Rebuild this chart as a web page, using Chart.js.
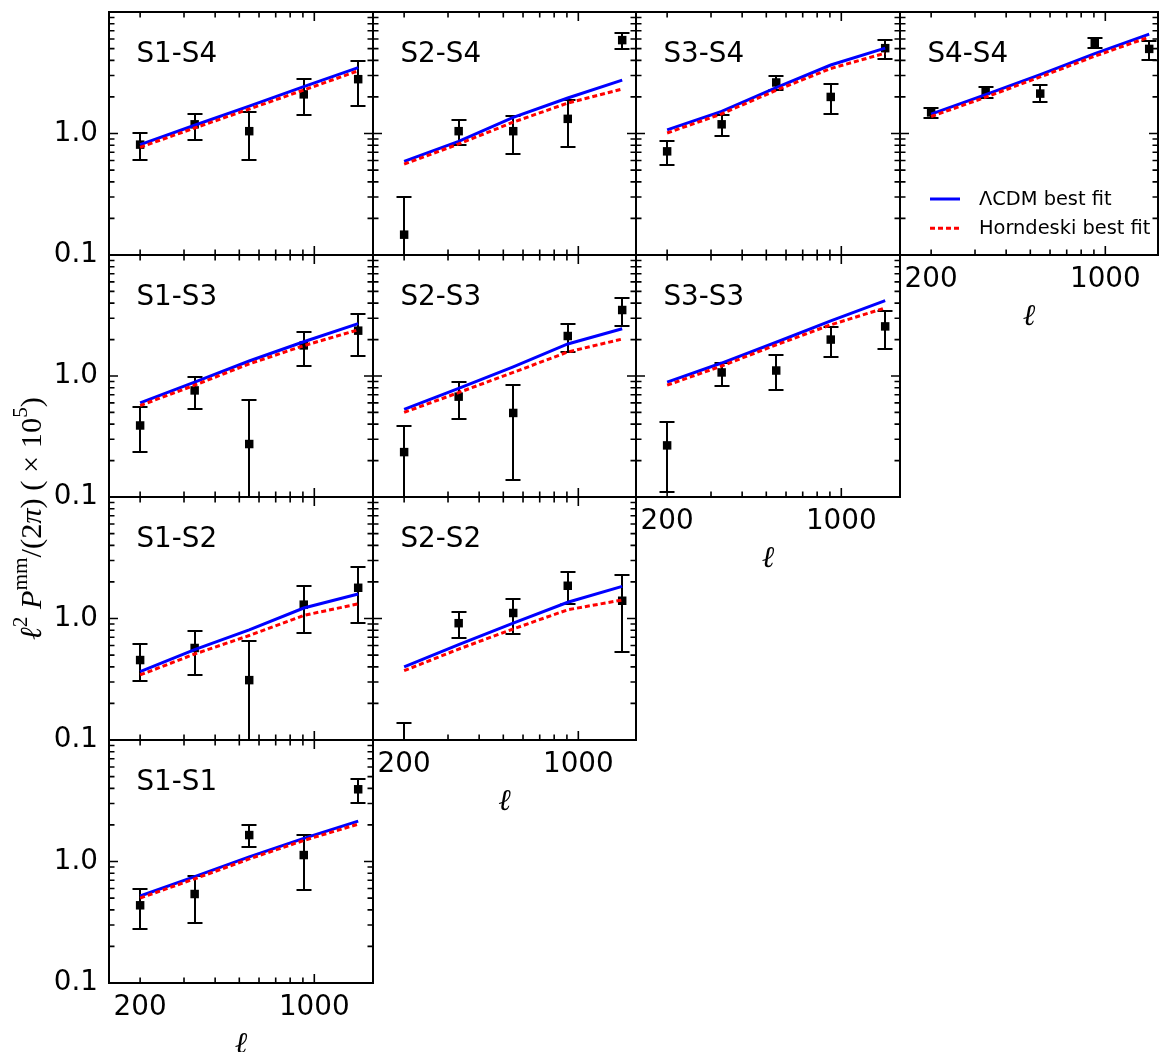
<!DOCTYPE html>
<html><head><meta charset="utf-8">
<script src="https://cdn.jsdelivr.net/npm/chart.js@4.4.0/dist/chart.umd.min.js"></script>
<style>
html,body{margin:0;padding:0;background:#fff;}
body{width:1159px;height:1052px;overflow:hidden;position:relative;}
canvas{position:absolute;}
</style></head><body>
<canvas id="ylabel" width="80" height="1052" style="left:0;top:0"></canvas>
<script>
// ---------- data ----------
const ell = [200, 331, 548, 907, 1500];
const xTickVals = [200, 1000];
const xTickLabels = ['200', '1000'];
const yTickVals = [0.1, 1.0];
const yTickLabels = ['0.1', '1.0'];
const legendLabels = ['ΛCDM best fit', 'Horndeski best fit'];
const xAxisLabel = 'ℓ';

const S1S4_val  = [0.81, 1.19, 1.045, 2.10, 2.80];
const S1S4_lo   = [0.60, 0.88, 0.605, 1.41, 1.67];
const S1S4_hi   = [1.01, 1.46, 1.50, 2.82, 3.93];
const S1S4_lcdm = [0.81, 1.17, 1.68, 2.43, 3.48];
const S1S4_horn = [0.77, 1.11, 1.59, 2.28, 3.28];

const S2S4_val  = [0.147, 1.045, 1.045, 1.32, 5.87];
const S2S4_lo   = [0.01, 0.81, 0.68, 0.776, 4.94];
const S2S4_hi   = [0.30, 1.28, 1.39, 1.90, 6.71];
const S2S4_lcdm = [0.59, 0.86, 1.36, 1.96, 2.75];
const S2S4_horn = [0.56, 0.82, 1.24, 1.78, 2.32];

const S3S4_val  = [0.713, 1.19, 2.63, 2.0, 5.04];
const S3S4_lo   = [0.553, 0.956, 2.26, 1.44, 4.13];
const S3S4_hi   = [0.87, 1.41, 2.97, 2.56, 5.9];
const S3S4_lcdm = [1.07, 1.52, 2.39, 3.66, 5.04];
const S3S4_horn = [1.01, 1.45, 2.27, 3.43, 4.58];

const S4S4_val  = [1.49, 2.24, 2.13, 5.54, 4.97];
const S4S4_lo   = [1.33, 1.96, 1.80, 5.04, 4.0];
const S4S4_hi   = [1.63, 2.42, 2.49, 6.09, 5.82];
const S4S4_lcdm = [1.445, 2.09, 3.05, 4.55, 6.58];
const S4S4_horn = [1.38, 1.99, 2.92, 4.33, 6.22];

const S1S3_val  = [0.39, 0.76, 0.274, 1.79, 2.37];
const S1S3_lo   = [0.235, 0.53, 0.01, 1.22, 1.47];
const S1S3_hi   = [0.55, 0.987, 0.63, 2.32, 3.23];
const S1S3_lcdm = [0.60, 0.89, 1.33, 1.92, 2.71];
const S1S3_horn = [0.57, 0.84, 1.26, 1.78, 2.41];

const S2S3_val  = [0.235, 0.675, 0.495, 2.14, 3.51];
const S2S3_lo   = [0.01, 0.444, 0.138, 1.58, 2.60];
const S2S3_hi   = [0.389, 0.897, 0.843, 2.69, 4.44];
const S2S3_lcdm = [0.53, 0.79, 1.19, 1.84, 2.46];
const S2S3_horn = [0.50, 0.73, 1.07, 1.58, 2.02];

const S3S3_val  = [0.267, 1.07, 1.11, 2.0, 2.57];
const S3S3_lo   = [0.109, 0.83, 0.766, 1.44, 1.68];
const S3S3_hi   = [0.42, 1.28, 1.48, 2.56, 3.46];
const S3S3_lcdm = [0.89, 1.28, 1.90, 2.86, 4.19];
const S3S3_horn = [0.84, 1.21, 1.81, 2.65, 3.65];

const S1S2_val  = [0.455, 0.572, 0.311, 1.30, 1.79];
const S1S2_lo   = [0.305, 0.343, 0.01, 0.76, 0.92];
const S1S2_hi   = [0.614, 0.796, 0.653, 1.85, 2.65];
const S1S2_lcdm = [0.365, 0.555, 0.805, 1.22, 1.59];
const S1S2_horn = [0.343, 0.51, 0.724, 1.06, 1.32];

const S2S2_val  = [0.06, 0.915, 1.11, 1.86, 1.40];
const S2S2_lo   = [0.01, 0.688, 0.752, 1.31, 0.534];
const S2S2_hi   = [0.138, 1.14, 1.45, 2.41, 2.26];
const S2S2_lcdm = [0.40, 0.61, 0.915, 1.36, 1.84];
const S2S2_horn = [0.372, 0.56, 0.82, 1.18, 1.42];

const S1S1_val  = [0.436, 0.54, 1.65, 1.13, 3.93];
const S1S1_lo   = [0.28, 0.311, 1.32, 0.58, 3.04];
const S1S1_hi   = [0.59, 0.76, 2.0, 1.65, 4.8];
const S1S1_lcdm = [0.52, 0.75, 1.09, 1.55, 2.15];
const S1S1_horn = [0.50, 0.72, 1.05, 1.49, 2.03];

const panelNames = ['S1-S4','S2-S4','S3-S4','S4-S4','S1-S3','S2-S3','S3-S3','S1-S2','S2-S2','S1-S1'];
const panelCols  = [0,1,2,3,0,1,2,0,1,0];
const panelRows  = [0,0,0,0,1,1,1,2,2,3];
const panelVal  = [S1S4_val,S2S4_val,S3S4_val,S4S4_val,S1S3_val,S2S3_val,S3S3_val,S1S2_val,S2S2_val,S1S1_val];
const panelLo   = [S1S4_lo,S2S4_lo,S3S4_lo,S4S4_lo,S1S3_lo,S2S3_lo,S3S3_lo,S1S2_lo,S2S2_lo,S1S1_lo];
const panelHi   = [S1S4_hi,S2S4_hi,S3S4_hi,S4S4_hi,S1S3_hi,S2S3_hi,S3S3_hi,S1S2_hi,S2S2_hi,S1S1_hi];
const panelLcdm = [S1S4_lcdm,S2S4_lcdm,S3S4_lcdm,S4S4_lcdm,S1S3_lcdm,S2S3_lcdm,S3S3_lcdm,S1S2_lcdm,S2S2_lcdm,S1S1_lcdm];
const panelHorn = [S1S4_horn,S2S4_horn,S3S4_horn,S4S4_horn,S1S3_horn,S2S3_horn,S3S3_horn,S1S2_horn,S2S2_horn,S1S1_horn];

// ---------- layout ----------
const colLeft = [109, 373, 636, 900];
const colWidth = [264, 263, 264, 258];
const rowTop = [12, 255, 497, 740];
const rowHeight = [243, 242, 243, 243];
const xMin = 150;
const xMaxByCol = [1720, 1704, 1720, 1627];
const yMin = 0.1, yMax = 10;
const bottomRowOfCol = [3, 2, 1, 0];
const PADL = 109, PADR = 12, PADT = 12, PADB = 80;

const TICKFONT = "27.8px 'DejaVu Sans'";
const LEGFONT = "19.4px 'DejaVu Sans'";
const ELLFONT = "italic 30px 'DejaVu Serif'";

const minorX = [], minorY = [];
for (const d of [100, 1000]) for (let k = 2; k <= 9; k++) minorX.push(k * d);
for (const d of [0.1, 1]) for (let k = 2; k <= 9; k++) minorY.push(+(k * d).toFixed(2));
const majorX = [100, 1000, 10000], majorY = [0.1, 1, 10];

function makeDeco(i) {
  const col = panelCols[i], row = panelRows[i];
  return {
    id: 'deco' + i,
    beforeDatasetsDraw(chart) {
      const {ctx, chartArea: a} = chart;
      const xs = chart.scales.x, ys = chart.scales.y;
      ctx.save();
      ctx.beginPath(); ctx.rect(a.left, a.top, a.right - a.left, a.bottom - a.top); ctx.clip();
      ctx.strokeStyle = '#000'; ctx.lineWidth = 2; ctx.lineCap = 'butt';
      for (let k = 0; k < ell.length; k++) {
        const px = Math.round(xs.getPixelForValue(ell[k]));
        const y1 = Math.round(ys.getPixelForValue(panelLo[i][k]));
        const y2 = Math.round(ys.getPixelForValue(panelHi[i][k]));
        ctx.beginPath();
        ctx.moveTo(px, y1); ctx.lineTo(px, y2);
        ctx.moveTo(px - 7.5, y1); ctx.lineTo(px + 7.5, y1);
        ctx.moveTo(px - 7.5, y2); ctx.lineTo(px + 7.5, y2);
        ctx.stroke();
      }
      ctx.restore();
    },
    afterDraw(chart) {
      const {ctx, chartArea: a} = chart;
      const xs = chart.scales.x, ys = chart.scales.y;
      ctx.save();
      ctx.strokeStyle = '#000';
      // ticks
      ctx.lineWidth = 1.6;
      const xt = (v, len) => {
        const px = xs.getPixelForValue(v);
        if (px < a.left - 0.5 || px > a.right + 0.5) return;
        ctx.beginPath();
        ctx.moveTo(px, a.bottom); ctx.lineTo(px, a.bottom - len);
        ctx.moveTo(px, a.top); ctx.lineTo(px, a.top + len);
        ctx.stroke();
      };
      const yt = (v, len) => {
        const py = ys.getPixelForValue(v);
        if (py < a.top - 0.5 || py > a.bottom + 0.5) return;
        ctx.beginPath();
        ctx.moveTo(a.left, py); ctx.lineTo(a.left + len, py);
        ctx.moveTo(a.right, py); ctx.lineTo(a.right - len, py);
        ctx.stroke();
      };
      minorX.forEach(v => xt(v, 5.5)); majorX.forEach(v => xt(v, 9));
      minorY.forEach(v => yt(v, 5.5)); majorY.forEach(v => yt(v, 9));
      // frame
      ctx.lineWidth = 2;
      ctx.strokeRect(a.left, a.top, a.right - a.left, a.bottom - a.top);
      // panel label
      ctx.fillStyle = '#000';
      ctx.font = TICKFONT; ctx.textAlign = 'left'; ctx.textBaseline = 'alphabetic';
      ctx.fillText(panelNames[i], a.left + 27.4, a.top + 49.7);
      // y tick labels
      if (col === 0) {
        ctx.textAlign = 'right';
        yTickVals.forEach((v, k) => {
          const py = ys.getPixelForValue(v);
          ctx.fillText(yTickLabels[k], a.left - 11, py + 7);
        });
      }
      // x tick labels + axis label
      if (bottomRowOfCol[col] === row) {
        ctx.textAlign = 'center';
        xTickVals.forEach((v, k) => {
          const px = xs.getPixelForValue(v);
          ctx.fillText(xTickLabels[k], px, a.bottom + 32);
        });
        ctx.font = ELLFONT;
        ctx.fillText(xAxisLabel, (a.left + a.right) / 2, a.bottom + 70);
      }
      // legend
      if (panelNames[i] === 'S4-S4') {
        ctx.lineWidth = 3;
        ctx.strokeStyle = '#0000ff';
        ctx.beginPath(); ctx.moveTo(a.left + 30, a.top + 187); ctx.lineTo(a.left + 60, a.top + 187); ctx.stroke();
        ctx.strokeStyle = '#ff0000'; ctx.setLineDash([5, 3]);
        ctx.beginPath(); ctx.moveTo(a.left + 30, a.top + 216.3); ctx.lineTo(a.left + 60, a.top + 216.3); ctx.stroke();
        ctx.setLineDash([]);
        ctx.font = LEGFONT; ctx.textAlign = 'left'; ctx.fillStyle = '#000';
        ctx.fillText(legendLabels[0], a.left + 79, a.top + 193);
        ctx.fillText(legendLabels[1], a.left + 79, a.top + 222.3);
      }
      ctx.restore();
    }
  };
}

for (let i = 0; i < panelNames.length; i++) {
  const col = panelCols[i], row = panelRows[i];
  const L = colLeft[col], T = rowTop[row], W = colWidth[col], H = rowHeight[row];
  const cl = Math.floor(L - PADL), ct = Math.floor(T - PADT);
  const cr = Math.ceil(L + W + PADR), cb = Math.ceil(T + H + PADB);
  const cv = document.createElement('canvas');
  cv.width = cr - cl; cv.height = cb - ct;
  cv.style.left = cl + 'px'; cv.style.top = ct + 'px';
  cv.style.width = (cr - cl) + 'px'; cv.style.height = (cb - ct) + 'px';
  document.body.appendChild(cv);
  const pts = arr => ell.map((x, k) => ({x: x, y: arr[k]}));
  new Chart(cv, {
    type: 'line',
    data: {datasets: [
      {data: pts(panelVal[i]), showLine: false, pointStyle: 'rect', pointRadius: 6, pointHoverRadius: 6,
       pointBackgroundColor: '#000', pointBorderColor: '#000', pointBorderWidth: 0, borderColor: '#000', order: 3},
      {data: pts(panelLcdm[i]), borderColor: '#0000ff', borderWidth: 3, pointRadius: 0, tension: 0, fill: false, order: 2},
      {data: pts(panelHorn[i]), borderColor: '#ff0000', borderWidth: 3, borderDash: [5, 3], pointRadius: 0, tension: 0, fill: false, order: 1}
    ]},
    options: {
      responsive: false, animation: false, devicePixelRatio: 1, events: [],
      layout: {padding: {left: L - cl, right: cr - (L + W), top: T - ct, bottom: cb - (T + H)}},
      plugins: {legend: {display: false}, tooltip: {enabled: false}},
      scales: {
        x: {type: 'logarithmic', min: xMin, max: xMaxByCol[col], display: false},
        y: {type: 'logarithmic', min: yMin, max: yMax, display: false}
      }
    },
    plugins: [makeDeco(i)]
  });
}

// ---------- y axis label ----------
(function () {
  const c = document.getElementById('ylabel');
  const ctx = c.getContext('2d');
  const parts = [['ℓ',1,0],['2',0,1],[' ',0,0],['P',1,0],['mm',0,1],['/(2',0,0],['π',1,0],[')',0,0],[' ( × 10',0,0],['5',0,1],[')',0,0]];
  const fam = "'Liberation Serif','DejaVu Serif'";
  const fontFor = (p, s) => (p[1] ? 'italic ' : '') + (p[2] ? s * 0.7 : s) + 'px ' + fam;
  let S = 28, tot = 0;
  parts.forEach(p => { ctx.font = fontFor(p, S); tot += ctx.measureText(p[0]).width; });
  S = S * 243 / tot;
  ctx.save();
  ctx.translate(41, 640);
  ctx.rotate(-Math.PI / 2);
  ctx.fillStyle = '#000';
  ctx.textBaseline = 'alphabetic';
  let x = 0;
  parts.forEach(p => {
    ctx.font = fontFor(p, S);
    ctx.fillText(p[0], x, p[2] ? -S * 0.45 : 0);
    x += ctx.measureText(p[0]).width;
  });
  ctx.restore();
})();
</script>
</body></html>
